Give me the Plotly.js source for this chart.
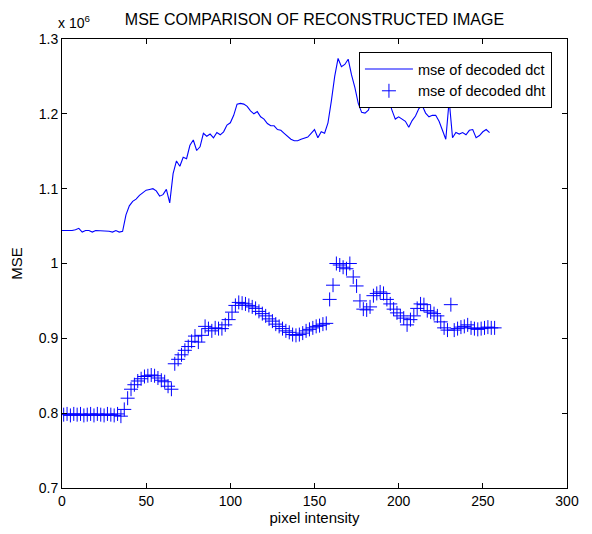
<!DOCTYPE html>
<html>
<head>
<meta charset="utf-8">
<script src="https://cdn.plot.ly/plotly-3.0.1.min.js"></script>
<style>html,body{margin:0;padding:0;background:#fff;}#chart{width:592px;height:534px;}</style>
</head>
<body>
<div id="chart"></div>
<script>
// MSE values in units of 10^6
const dctX0 = 0, dctStep = 2;
const mseDct = [
  1.044, 1.044, 1.043, 1.044, 1.045, 1.047, 1.042, 1.044, 1.044, 1.042,
  1.044, 1.044, 1.044, 1.044, 1.043, 1.042, 1.044, 1.042, 1.043, 1.065,
  1.077, 1.083, 1.086, 1.091, 1.095, 1.098, 1.099, 1.100, 1.097, 1.090,
  1.092, 1.099, 1.081, 1.120, 1.137, 1.130, 1.142, 1.140, 1.158, 1.165,
  1.151, 1.156, 1.174, 1.170, 1.173, 1.168, 1.175, 1.172, 1.176, 1.185,
  1.188, 1.198, 1.213, 1.214, 1.213, 1.210, 1.204, 1.200, 1.203, 1.196,
  1.193, 1.187, 1.184, 1.184, 1.179, 1.178, 1.174, 1.170, 1.166, 1.164,
  1.164, 1.166, 1.168, 1.169, 1.174, 1.179, 1.168, 1.176, 1.174, 1.188,
  1.217, 1.250, 1.274, 1.263, 1.266, 1.273, 1.252, 1.235, 1.214, 1.202,
  1.201, 1.205, 1.218, 1.228, 1.232, 1.235, 1.230, 1.220, 1.205, 1.193,
  1.196, 1.193, 1.190, 1.182, 1.191, 1.197, 1.207, 1.211, 1.201, 1.196,
  1.198, 1.198, 1.190, 1.178, 1.166, 1.218, 1.168, 1.175, 1.173, 1.175,
  1.172, 1.178, 1.179, 1.168, 1.171, 1.176, 1.179, 1.175
];
const dhtX0 = 1, dhtStep = 2;
const mseDht = [
  0.798, 0.799, 0.797, 0.799, 0.798, 0.799, 0.797, 0.798, 0.799, 0.797,
  0.799, 0.798, 0.797, 0.799, 0.798, 0.797, 0.799, 0.796, 0.805, 0.820,
  0.832, 0.838, 0.843, 0.846, 0.849, 0.850, 0.851, 0.850, 0.847, 0.844,
  0.842, 0.836, 0.832, 0.866, 0.872, 0.878, 0.884, 0.889, 0.896, 0.903,
  0.895, 0.904, 0.916, 0.913, 0.910, 0.914, 0.913, 0.913, 0.918, 0.925,
  0.935, 0.944, 0.948, 0.947, 0.946, 0.944, 0.942, 0.940, 0.936, 0.933,
  0.930, 0.926, 0.923, 0.919, 0.916, 0.913, 0.910, 0.908, 0.905, 0.904,
  0.905, 0.907, 0.910, 0.912, 0.914, 0.916, 0.917, 0.919, 0.920, 0.952,
  0.971, 1.000, 0.998, 0.995, 0.993, 1.000, 0.982, 0.970, 0.950, 0.939,
  0.938, 0.942, 0.957, 0.960, 0.962, 0.960, 0.952, 0.946, 0.939, 0.934,
  0.930, 0.927, 0.918, 0.925, 0.930, 0.940, 0.946, 0.945, 0.937, 0.935,
  0.933, 0.930, 0.922, 0.914, 0.911, 0.945, 0.911, 0.913, 0.915, 0.916,
  0.918, 0.914, 0.913, 0.912, 0.913, 0.914, 0.915, 0.914, 0.914
];
const xTicks = [0, 50, 100, 150, 200, 250, 300];
const yTicks = [0.7, 0.8, 0.9, 1, 1.1, 1.2, 1.3];
const yTickText = ['0.7', '0.8', '0.9', '1', '1.1', '1.2', '1.3'];

const dctX = mseDct.map((_, i) => dctX0 + i * dctStep);
const dhtX = mseDht.map((_, i) => dhtX0 + i * dhtStep);

const FONT = 'Liberation Sans, Arial, sans-serif';
const traces = [
  {x: dctX, y: mseDct, type: 'scatter', mode: 'lines', name: 'mse of decoded dct',
   line: {color: '#0000ff', width: 1.1}},
  {x: dhtX, y: mseDht, type: 'scatter', mode: 'markers', name: 'mse of decoded dht',
   marker: {symbol: 'cross-thin-open', size: 10, color: '#0000ff', line: {color: '#0000ff', width: 1}}}
];
const axisCommon = {
  showline: true, linecolor: '#000', linewidth: 1, mirror: 'ticks',
  ticks: 'inside', ticklen: 5, tickcolor: '#000', tickwidth: 1,
  showgrid: false, zeroline: false, tickfont: {family: FONT, size: 14, color: '#000'}
};
const layout = {
  width: 592, height: 534,
  margin: {l: 62, r: 25, t: 39, b: 46},
  paper_bgcolor: '#fff', plot_bgcolor: '#fff',
  font: {family: FONT, size: 14, color: '#000'},
  title: {text: 'MSE COMPARISON OF RECONSTRUCTED IMAGE', x: 0.5, xref: 'paper',
          y: 1 - 19 / 534, yanchor: 'middle', font: {family: FONT, size: 16, color: '#000'}},
  xaxis: Object.assign({}, axisCommon, {range: [0, 300], tickvals: xTicks, automargin: false,
          title: {text: 'pixel intensity', font: {family: FONT, size: 15, color: '#000'}, standoff: 4}}),
  yaxis: Object.assign({}, axisCommon, {range: [0.7, 1.3], tickvals: yTicks, ticktext: yTickText, automargin: false,
          title: {text: 'MSE', font: {family: FONT, size: 15, color: '#000'}, standoff: 12}}),
  showlegend: true,
  legend: {x: 0.588, y: 0.971, xanchor: 'left', yanchor: 'top', bgcolor: '#fff',
           bordercolor: '#000', borderwidth: 1, font: {family: FONT, size: 14.5, color: '#000'},
           itemwidth: 48, tracegroupgap: 0},
  annotations: [{text: 'x 10<sup>6</sup>', xref: 'paper', yref: 'paper', x: 0, y: 1,
                 xanchor: 'left', yanchor: 'bottom', xshift: -6, yshift: 6, showarrow: false,
                 font: {family: FONT, size: 14, color: '#000'}}]
};
Plotly.newPlot('chart', traces, layout, {displayModeBar: false, staticPlot: true});
</script>
</body>
</html>
